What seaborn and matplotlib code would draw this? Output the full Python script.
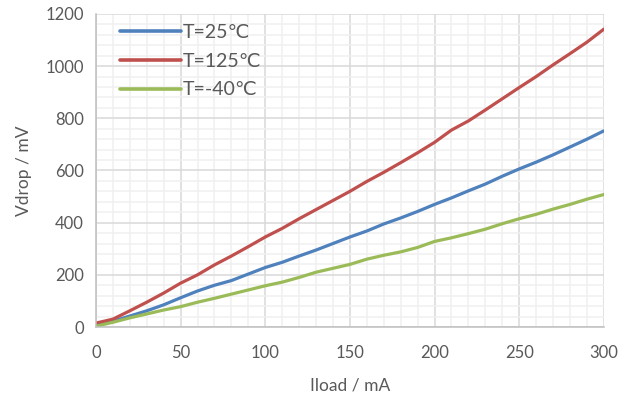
import matplotlib
matplotlib.use("Agg")
import matplotlib.pyplot as plt
from matplotlib.ticker import MultipleLocator
import numpy as np
import pandas as pd
import seaborn as sns

# load current in mA, 10 mA steps
iload = list(range(0, 301, 10))

vdrop_25 = [8, 22, 42, 62, 85, 112, 138, 160, 178, 203, 228, 248, 272, 295, 320,
            345, 368, 395, 418, 443, 470, 495, 522, 548, 578, 606, 632, 660, 690,
            720, 752]
vdrop_125 = [15, 30, 62, 95, 130, 168, 200, 238, 272, 308, 345, 378, 415, 450,
             485, 520, 558, 593, 630, 668, 708, 755, 790, 832, 875, 918, 960,
             1005, 1048, 1092, 1142]
vdrop_m40 = [3, 18, 35, 50, 65, 78, 95, 110, 126, 142, 158, 172, 190, 210, 225,
             240, 260, 275, 288, 305, 328, 342, 358, 375, 396, 415, 432, 452, 470,
             490, 508]

labels = ["T=25\u2103", "T=125\u2103", "T=-40\u2103"]
colors = ["#4F81BD", "#C0504D", "#9BBB59"]

df = pd.concat([
    pd.DataFrame({"Iload": iload, "Vdrop": v, "T": lab})
    for v, lab in zip([vdrop_25, vdrop_125, vdrop_m40], labels)
])

sns.set_style("white")
plt.rcParams["font.family"] = ["Lato", "DejaVu Sans"]

fig = plt.figure(figsize=(6.31, 4.0), dpi=100)
ax = fig.add_axes([0.152, 0.1825, 0.805, 0.7825])

sns.lineplot(data=df, x="Iload", y="Vdrop", hue="T", palette=colors,
             linewidth=2.3, ax=ax, legend=True)

ax.set_xlim(0, 300)
ax.set_ylim(0, 1200)
ax.xaxis.set_major_locator(MultipleLocator(50))
ax.xaxis.set_minor_locator(MultipleLocator(10))
ax.yaxis.set_major_locator(MultipleLocator(200))
ax.yaxis.set_minor_locator(MultipleLocator(40))
ax.grid(which="major", color="#d9d9d9", linewidth=1.1)
ax.grid(which="minor", color="#f0f0f0", linewidth=1.1)
ax.set_axisbelow(True)

for s in ["top", "right"]:
    ax.spines[s].set_visible(False)
for s in ["left", "bottom"]:
    ax.spines[s].set_color("#bfbfbf")
    ax.spines[s].set_linewidth(1.1)

ax.tick_params(which="major", length=5, width=1, color="#bfbfbf",
               labelcolor="#595959", labelsize=12, direction="out")
ax.tick_params(axis="x", which="major", pad=8)
ax.tick_params(which="minor", length=0)

ax.set_xlabel("Iload / mA", fontsize=12.5, color="#595959", labelpad=12)
ax.set_ylabel("Vdrop / mV", fontsize=12.5, color="#595959", labelpad=10)

leg = ax.legend(loc="upper left", frameon=False, fontsize=14, handlelength=3.1,
                handletextpad=0.1, labelspacing=0.6, borderaxespad=0.2,
                bbox_to_anchor=(0.025, 1.005))
for t in leg.get_texts():
    t.set_color("#595959")
for h in leg.get_lines():
    h.set_linewidth(2.6)

fig.savefig("out.png", dpi=100)
